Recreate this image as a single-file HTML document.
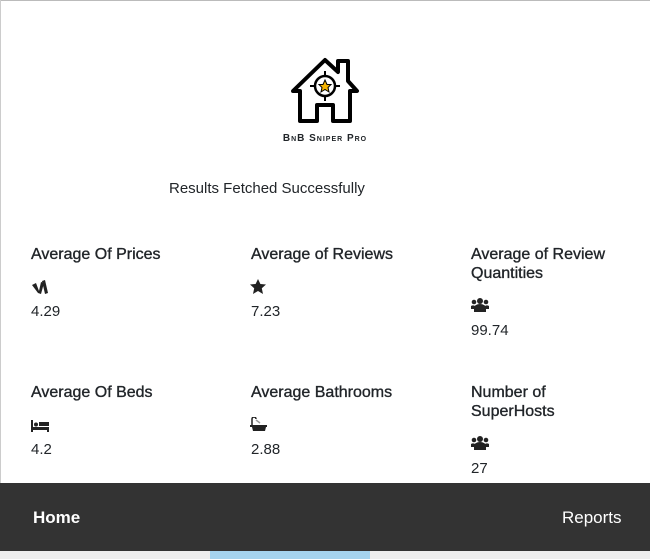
<!DOCTYPE html>
<html><head><meta charset="utf-8"><style>
body{margin:0;width:650px;height:559px;overflow:hidden;background:#fff;font-family:"Liberation Sans",sans-serif;color:#212529;position:relative}
.a{position:absolute}
.t{font-size:16px;line-height:19px;white-space:nowrap;-webkit-text-stroke:0.35px #212529}
.v{font-size:15px;line-height:18px}
.i{width:18px;height:16px}
</style></head><body>
<div class="a" style="left:0;top:0;width:650px;height:1px;background:#bbb"></div>
<div class="a" style="left:0;top:0;width:1px;height:483px;background:#ccc"></div>
<svg class="a" style="left:288px;top:55px" width="74" height="72" viewBox="0 0 74 72">
<path d="M5 36 L37 5 L50 17 L50 6 L60 6 L60 26 L69 36 L62 36 L62 66 L45 66 L45 50 L29 50 L29 66 L12 66 L12 36 Z" fill="none" stroke="#000" stroke-width="4" stroke-linejoin="round"/>
<circle cx="37" cy="31" r="10" fill="none" stroke="#000" stroke-width="2.5"/>
<path d="M37 16v6M37 40v6M22 31h6M46 31h6" stroke="#000" stroke-width="2"/>
<polygon points="37,25 39,29.5 43,29.5 40,32.5 41,37 37,34.5 33,37 34,32.5 31,29.5 35,29.5" fill="#f5b400" stroke="#000" stroke-width="1"/>
</svg>
<div class="a" style="left:260px;top:133px;width:130px;text-align:center;font-size:10px;font-weight:bold;letter-spacing:1px;font-variant:small-caps">BnB Sniper Pro</div>
<div class="a" style="left:169px;top:180px;font-size:15px">Results Fetched Successfully</div>

<div class="a t" style="left:31px;top:245px">Average Of Prices</div>
<svg class="a i" style="left:31px;top:279px" viewBox="0 0 18 16"><path d="M1 6l4-2 3 8 2-9 3 1-3 11-3-1zM11 2l3-1 3 13-3 1z" fill="#222"/></svg>
<div class="a v" style="left:31px;top:303px">4.29</div>

<div class="a t" style="left:251px;top:245px">Average of Reviews</div>
<svg class="a i" style="left:250px;top:279px" viewBox="0 0 18 16"><polygon points="8,0 10.4,5 16,5.5 11.8,9.2 13,15 8,12 3,15 4.2,9.2 0,5.5 5.6,5" fill="#222"/></svg>
<div class="a v" style="left:251px;top:303px">7.23</div>

<div class="a t" style="left:471px;top:245px">Average of Review<br>Quantities</div>
<svg class="a i" style="left:471px;top:297px" viewBox="0 0 18 16"><circle cx="9" cy="4" r="3" fill="#222"/><circle cx="3" cy="5" r="2.3" fill="#222"/><circle cx="15" cy="5" r="2.3" fill="#222"/><path d="M3 15v-4a6 4 0 0 1 12 0v4z M0 12v-3a3 2 0 0 1 4 0v3z M14 12v-3a3 2 0 0 1 4 0v3z" fill="#222"/></svg>
<div class="a v" style="left:471px;top:322px">99.74</div>

<div class="a t" style="left:31px;top:383px">Average Of Beds</div>
<svg class="a i" style="left:31px;top:417px" viewBox="0 0 18 16"><path d="M0 3h2v7h16v5h-2v-2H2v2H0z" fill="#222"/><circle cx="5" cy="7.5" r="2" fill="#222"/><rect x="8" y="5" width="10" height="4" fill="#222"/></svg>
<div class="a v" style="left:31px;top:441px">4.2</div>

<div class="a t" style="left:251px;top:383px">Average Bathrooms</div>
<svg class="a i" style="left:250px;top:417px" viewBox="0 0 18 16"><path d="M2 9V2a2 2 0 0 1 4 0" fill="none" stroke="#222" stroke-width="1.5"/><path d="M0 8h17v2h-1l-1 4h-12l-1-4H0z" fill="#222"/><path d="M6 3l4 3" stroke="#999" stroke-width="1.5"/></svg>
<div class="a v" style="left:251px;top:441px">2.88</div>

<div class="a t" style="left:471px;top:383px">Number of<br>SuperHosts</div>
<svg class="a i" style="left:471px;top:435px" viewBox="0 0 18 16"><circle cx="9" cy="4" r="3" fill="#222"/><circle cx="3" cy="5" r="2.3" fill="#222"/><circle cx="15" cy="5" r="2.3" fill="#222"/><path d="M3 15v-4a6 4 0 0 1 12 0v4z M0 12v-3a3 2 0 0 1 4 0v3z M14 12v-3a3 2 0 0 1 4 0v3z" fill="#222"/></svg>
<div class="a v" style="left:471px;top:460px">27</div>

<div class="a" style="left:0;top:483px;width:650px;height:68px;background:#333"></div>
<div class="a" style="left:33px;top:508px;color:#fff;font-weight:bold;font-size:17px">Home</div>
<div class="a" style="left:562px;top:508px;color:#fff;font-size:17px">Reports</div>
<div class="a" style="left:0;top:551px;width:650px;height:8px;background:#eee"></div>
<div class="a" style="left:210px;top:551px;width:160px;height:8px;background:#a5d4ef"></div>
</body></html>
